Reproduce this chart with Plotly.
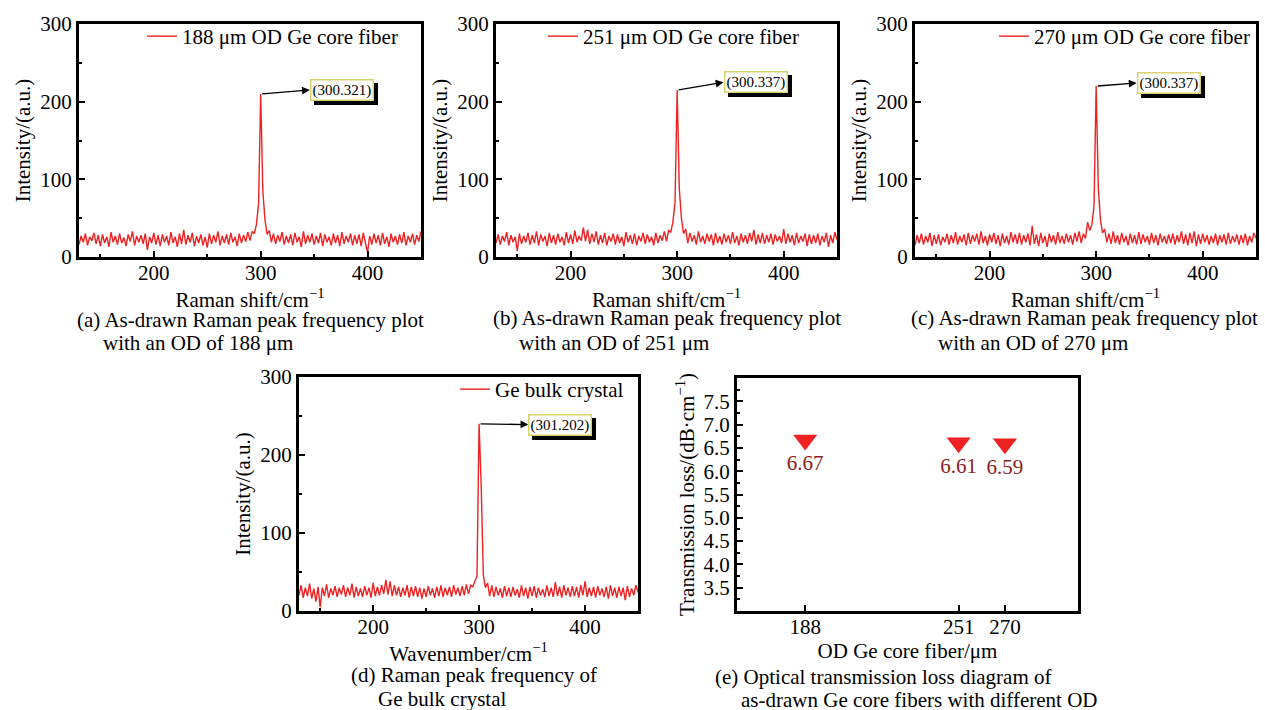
import plotly.graph_objects as go

# ---------------- data ----------------
wavenumber = list(range(130, 451, 2))  # Raman shift grid, cm^-1

int_188 = [
    16, 27, 19, 30, 15, 26, 21, 31, 17, 28,
    14, 29, 18, 26, 13, 32, 19, 27, 16, 30,
    18, 25, 14, 29, 20, 33, 15, 27, 19, 28,
    17, 30, 9, 26, 18, 31, 16, 28, 14, 29,
    19, 27, 15, 32, 18, 26, 13, 30, 17, 35,
    16, 28, 19, 31, 14, 27, 18, 29, 15, 26,
    12, 30, 17, 28, 19, 33, 15, 27, 18, 29,
    16, 31, 19, 26, 14, 30, 18, 28, 20, 32,
    21, 33, 30, 42, 68, 210, 85, 48, 29, 34,
    19, 30, 17, 28, 20, 32, 16, 27, 18, 29,
    15, 31, 19, 26, 13, 33, 17, 28, 19, 30,
    16, 27, 18, 31, 14, 29, 19, 26, 15, 30,
    18, 28, 14, 32, 17, 27, 19, 30, 15, 28,
    17, 29, 14, 31, 18, 6, 27, 16, 30, 18,
    28, 15, 31, 17, 26, 13, 30, 19, 27, 16,
    29, 18, 32, 15, 27, 19, 30, 16, 28, 20,
    33,
]

int_251 = [
    18, 29, 16, 27, 20, 32, 15, 28, 19, 26,
    8, 30, 17, 27, 19, 31, 16, 28, 18, 33,
    15, 29, 20, 27, 14, 31, 18, 28, 16, 30,
    19, 26, 15, 32, 18, 29, 17, 34, 19, 27,
    21, 38, 20, 35, 17, 30, 19, 33, 16, 28,
    18, 31, 15, 27, 20, 30, 16, 29, 18, 26,
    14, 32, 19, 28, 17, 30, 15, 27, 20, 31,
    17, 29, 19, 26, 15, 31, 18, 28, 21, 33,
    20, 34, 32, 45, 70, 215, 88, 50, 30, 36,
    18, 31, 20, 28, 16, 33, 19, 27, 17, 30,
    20, 29, 15, 31, 18, 27, 16, 30, 19, 28,
    17, 32, 18, 27, 15, 30, 19, 28, 17, 31,
    20, 35, 16, 29, 18, 31, 17, 28, 19, 30,
    16, 29, 20, 27, 18, 36, 17, 30, 19, 28,
    15, 31, 18, 27, 20, 30, 14, 29, 17, 28,
    18, 30, 15, 27, 19, 31, 13, 28, 18, 32,
    22,
]

int_270 = [
    15, 28, 18, 30, 16, 27, 19, 31, 14, 28,
    17, 29, 15, 26, 19, 30, 16, 28, 18, 32,
    16, 27, 19, 29, 15, 31, 17, 28, 20, 30,
    16, 33, 18, 27, 15, 29, 19, 31, 17, 28,
    14, 30, 18, 27, 16, 32, 19, 29, 17, 31,
    16, 28, 19, 30, 15, 40, 17, 29, 14, 31,
    18, 27, 13, 30, 19, 28, 16, 32, 18, 27,
    17, 30, 19, 28, 16, 31, 20, 33, 18, 30,
    24, 45, 34, 42, 66, 220, 90, 48, 31, 36,
    19, 30, 17, 33, 18, 28, 16, 31, 19, 27,
    15, 30, 18, 28, 16, 32, 17, 29, 19, 27,
    16, 31, 18, 28, 15, 30, 19, 27, 17, 29,
    18, 30, 16, 28, 19, 33, 17, 29, 15, 31,
    18, 33, 14, 29, 17, 30, 19, 28, 16, 27,
    18, 30, 15, 28, 19, 29, 16, 31, 17, 27,
    19, 29, 16, 28, 18, 30, 15, 27, 19, 31,
    24,
]

int_bulk = [
    20, 33, 17, 30, 19, 35, 16, 29, 12, 31,
    5, 30, 19, 34, 17, 29, 20, 32, 18, 30,
    21, 33, 18, 30, 20, 35, 17, 31, 19, 29,
    18, 32, 20, 30, 17, 36, 19, 31, 20, 33,
    22, 40, 21, 38, 19, 33, 20, 31, 18, 30,
    20, 33, 17, 31, 19, 32, 18, 30, 16, 29,
    18, 32, 20, 29, 17, 31, 19, 33, 18, 30,
    20, 31, 18, 33, 21, 30, 19, 32, 20, 34,
    22, 33, 31, 37, 45, 240, 160, 46, 30, 36,
    19, 33, 18, 31, 20, 29, 17, 32, 19, 30,
    18, 31, 20, 28, 17, 33, 19, 30, 16, 31,
    19, 32, 17, 30, 20, 28, 18, 33, 19, 30,
    18, 37, 19, 31, 17, 33, 20, 30, 18, 32,
    19, 31, 17, 33, 20, 38, 18, 30, 19, 31,
    17, 32, 20, 29, 18, 31, 16, 33, 19, 30,
    17, 31, 19, 30, 14, 32, 18, 29, 20, 33,
    24,
]

series_names = ["188 μm OD Ge core fiber", "251 μm OD Ge core fiber",
                "270 μm OD Ge core fiber", "Ge bulk crystal"]
peak_labels = ["(300.321)", "(300.337)", "(300.337)", "(301.202)"]
x_titles = ["Raman shift/cm<sup>−1</sup>", "Raman shift/cm<sup>−1</sup>",
            "Raman shift/cm<sup>−1</sup>", "Wavenumber/cm<sup>−1</sup>"]

od_um = [188, 251, 270]
loss_db = [6.67, 6.61, 6.59]
loss_labels = ["6.67", "6.61", "6.59"]

captions = [
    ("(a) As-drawn Raman peak frequency plot", "with an OD of 188 μm"),
    ("(b) As-drawn Raman peak frequency plot", "with an OD of 251 μm"),
    ("(c) As-drawn Raman peak frequency plot", "with an OD of 270 μm"),
    ("(d) Raman peak frequency of", "Ge bulk crystal"),
    ("(e) Optical transmission loss diagram of", "as-drawn Ge core fibers with different OD"),
]

# ---------------- layout geometry (pixels) ----------------
W, H = 1265, 710
FONT = "Liberation Serif"
FS = 21
RED = "#ee2222"

# plot boxes: (left, right, top, bottom)
boxes = [(79, 421, 24, 257), (496, 837, 24, 257), (915, 1256, 24, 257),
         (299, 638, 377, 611), (737, 1078, 378, 611)]
# legend anchor (right x, top y)
legend_pos = [(403, 16), (804, 16), (1255, 16), (629, 369)]
# peak-label box left edge (data x) and centre (data y)
label_box = [(346, 215), (343.5, 225), (338, 224), (346.5, 239)]
# caption starts: (x1, y1, x2, y2)
cap_pos = [(75, 320, 101, 343), (491, 318, 517, 343), (909, 318, 936, 343),
           (349, 675, 376, 699), (713, 677, 739, 700)]


def fx(px):
    return px / W


def fy(py):
    return 1 - py / H


fig = go.Figure()
spectra = [int_188, int_251, int_270, int_bulk]
annotations = []

axis_common = dict(showline=True, linecolor="black", linewidth=3, mirror=True,
                   ticks="inside", ticklen=6, tickwidth=2, tickcolor="black",
                   showgrid=False, zeroline=False, automargin=False,
                   tickfont=dict(family=FONT, size=FS, color="black"),
                   title_font=dict(family=FONT, size=FS, color="black"))

for i, ys in enumerate(spectra):
    n = i + 1
    xa = "x" if n == 1 else f"x{n}"
    ya = "y" if n == 1 else f"y{n}"
    leg = "legend" if n == 1 else f"legend{n}"
    fig.add_trace(go.Scatter(x=wavenumber, y=ys, mode="lines", name=series_names[i],
                             line=dict(color=RED, width=1.4), xaxis=xa, yaxis=ya,
                             legend=leg, showlegend=True))
    l, r, t, b = boxes[i]
    xkey = "xaxis" if n == 1 else f"xaxis{n}"
    ykey = "yaxis" if n == 1 else f"yaxis{n}"
    fig.update_layout({
        xkey: dict(axis_common, domain=[fx(l), fx(r)], anchor=ya, range=[130, 450],
                   tick0=0, dtick=100, ticklabelstandoff=-5,
                   minor=dict(ticks="inside", ticklen=3, tickwidth=2, dtick=50, tick0=0),
                   title=dict(text=x_titles[i], standoff=0)),
        ykey: dict(axis_common, domain=[fy(b), fy(t)], anchor=xa, range=[0, 300],
                   tick0=0, dtick=100,
                   minor=dict(ticks="inside", ticklen=3, tickwidth=2, dtick=50, tick0=0),
                   title=dict(text="Intensity/(a.u.)", standoff=4)),
        leg: dict(x=fx(legend_pos[i][0]), y=fy(legend_pos[i][1]), xanchor="right",
                  yanchor="top", bgcolor="rgba(0,0,0,0)", itemwidth=30,
                  font=dict(family=FONT, size=FS, color="black")),
    })
    # peak arrow and label
    pk = max(ys)
    xpk = wavenumber[ys.index(pk)]
    bx, by = label_box[i]
    xref = "x" if n == 1 else f"x{n}"
    yref = "y" if n == 1 else f"y{n}"
    annotations.append(dict(x=bx, y=by, xref=xref, yref=yref, ax=xpk, ay=pk,
                            axref=xref, ayref=yref, text="", showarrow=True,
                            arrowhead=2, arrowsize=1.2, arrowwidth=1.3,
                            arrowcolor="black", standoff=0, startstandoff=0))
    annotations.append(dict(x=bx, y=by, xref=xref, yref=yref, text=peak_labels[i],
                            showarrow=False, xanchor="left", yanchor="middle",
                            xshift=4, yshift=-4, bgcolor="black", bordercolor="black",
                            borderwidth=1.5, borderpad=1,
                            font=dict(family=FONT, size=15, color="black")))
    annotations.append(dict(x=bx, y=by, xref=xref, yref=yref, text=peak_labels[i],
                            showarrow=False, xanchor="left", yanchor="middle",
                            bgcolor="white", bordercolor="#d9d36e", borderwidth=1.5,
                            borderpad=1, font=dict(family=FONT, size=15, color="black")))

# panel (e)
fig.add_trace(go.Scatter(x=od_um, y=loss_db, mode="markers+text", text=loss_labels,
                         textposition="bottom center",
                         textfont=dict(family=FONT, size=FS, color="#8b1d1d"),
                         marker=dict(symbol="triangle-down", size=21, color=RED),
                         xaxis="x5", yaxis="y5", showlegend=False))
l, r, t, b = boxes[4]
fig.update_layout(
    xaxis5=dict(axis_common, domain=[fx(l), fx(r)], anchor="y5", range=[160, 300],
                tickvals=od_um, ticktext=[str(v) for v in od_um], ticklabelstandoff=-5,
                title=dict(text="OD Ge core fiber/μm", standoff=0)),
    yaxis5=dict(axis_common, domain=[fy(b), fy(t)], anchor="x5", range=[3.0, 8.0],
                tickvals=[3.5, 4.0, 4.5, 5.0, 5.5, 6.0, 6.5, 7.0, 7.5], tickformat=".1f",
                minor=dict(ticks="inside", ticklen=3, tickwidth=2, dtick=0.25, tick0=3.0),
                title=dict(text="Transmission loss/(dB·cm<sup>−1</sup>)", standoff=4)),
)

for (l1, l2), (x1, y1, x2, y2) in zip(captions, cap_pos):
    annotations.append(dict(x=fx(x1), y=fy(y1), xref="paper", yref="paper", text=l1,
                            showarrow=False, xanchor="left", yanchor="middle",
                            font=dict(family=FONT, size=FS, color="black")))
    annotations.append(dict(x=fx(x2), y=fy(y2), xref="paper", yref="paper", text=l2,
                            showarrow=False, xanchor="left", yanchor="middle",
                            font=dict(family=FONT, size=FS, color="black")))

fig.update_layout(width=W, height=H,
                  margin=dict(l=0, r=0, t=0, b=0, pad=0, autoexpand=False),
                  paper_bgcolor="white", plot_bgcolor="white",
                  font=dict(family=FONT, size=FS, color="black"),
                  annotations=annotations)

fig.write_html("out.html")
